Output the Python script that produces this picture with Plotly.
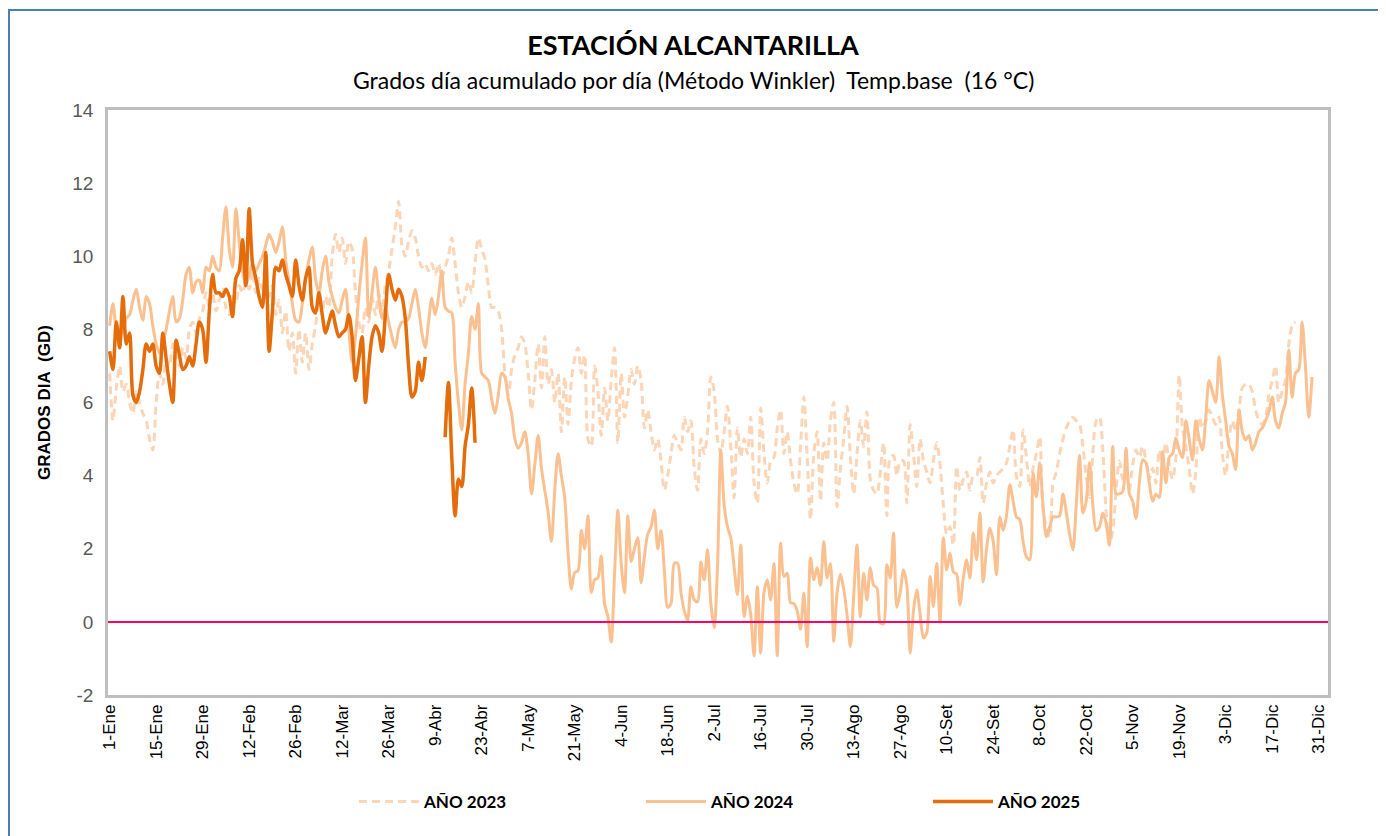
import plotly.graph_objects as go

# ---------------- data ----------------
tick_days = [0, 14, 28, 42, 56, 70, 84, 98, 112, 126, 140, 154, 168, 182,
             196, 210, 224, 238, 252, 266, 280, 294, 308, 322, 336, 350, 364]
tick_labels = ["1-Ene", "15-Ene", "29-Ene", "12-Feb", "26-Feb", "12-Mar", "26-Mar",
               "9-Abr", "23-Abr", "7-May", "21-May", "4-Jun", "18-Jun", "2-Jul",
               "16-Jul", "30-Jul", "13-Ago", "27-Ago", "10-Set", "24-Set", "8-Oct",
               "22-Oct", "5-Nov", "19-Nov", "3-Dic", "17-Dic", "31-Dic"]
y_tick_vals = [-2, 0, 2, 4, 6, 8, 10, 12, 14]
y_tick_text = ["-2", "0", "2", "4", "6", "8", "10", "12", "14"]

gd_2023 = [
    6.8, 5.5, 6.4, 7.0, 6.3, 6.5, 6.0, 5.7, 6.3, 6.0, 5.7, 5.5, 5.0, 4.7, 6.0, 6.8, 6.5, 7.2, 7.0, 7.6,
    7.3, 7.0, 7.5, 7.2, 8.0, 8.2, 7.9, 8.3, 8.5, 9.0, 8.6, 9.0, 8.5, 8.8, 9.1, 8.6, 8.4, 9.0, 8.7, 9.2,
    9.0, 9.3, 9.1, 9.6, 9.0, 9.4, 9.1, 9.3, 8.9, 9.2, 8.4, 8.8, 7.9, 8.5, 7.4, 7.9, 6.8, 8.0, 7.1, 7.9,
    6.9, 7.6, 8.1, 8.8, 8.5, 8.9, 8.6, 10.0, 10.6, 10.1, 10.5, 9.8, 10.4, 10.2, 9.0, 8.2, 7.9, 8.6, 8.2, 8.9,
    8.4, 9.0, 8.5, 9.2, 9.6, 10.2, 10.8, 11.5, 10.3, 10.0, 10.4, 10.7, 10.5, 10.0, 9.7, 9.8, 9.6, 9.8, 9.5, 9.8,
    9.4, 9.7, 10.0, 10.5, 9.8, 9.0, 8.6, 8.9, 9.3, 9.0, 9.8, 10.5, 10.2, 9.9, 9.2, 8.6, 8.6, 8.5, 8.0, 6.8,
    6.2, 6.9, 7.3, 7.5, 7.8, 7.6, 6.8, 5.8, 6.6, 7.6, 6.4, 7.8, 6.5, 6.9, 6.0, 6.8, 5.2, 6.7, 5.4, 6.6,
    7.2, 7.5, 6.8, 7.3, 5.0, 4.8, 7.0, 6.3, 5.1, 6.4, 5.5, 6.6, 7.5, 4.9, 6.8, 5.6, 6.2, 6.9, 6.5, 7.0,
    6.6, 5.3, 5.8, 5.2, 4.7, 5.0, 4.4, 3.6, 4.0, 4.6, 5.1, 4.9, 4.7, 5.6, 5.2, 5.5, 4.2, 3.6, 5.0, 4.6,
    5.2, 6.7, 6.3, 5.0, 4.6, 5.2, 5.9, 4.8, 3.4, 5.3, 4.5, 5.0, 4.6, 5.6, 3.8, 3.25, 5.85, 4.6, 3.8, 4.4,
    4.5, 5.3, 5.8, 4.6, 5.2, 4.4, 3.8, 3.5, 4.8, 6.15, 4.5, 2.8, 4.6, 5.2, 3.3, 4.9, 4.4, 5.5, 6.0, 3.15,
    4.2, 5.0, 5.9, 4.5, 3.5, 4.6, 5.5, 4.8, 5.75, 3.9, 3.6, 3.5, 4.1, 4.9, 2.9, 4.5, 4.55, 4.0, 4.4, 4.4,
    3.25, 5.4, 4.6, 3.7, 5.0, 4.4, 4.1, 3.8, 4.4, 4.9, 4.3, 3.2, 2.4, 2.6, 2.1, 4.25, 3.6, 3.9, 4.1, 3.6,
    4.0, 4.0, 4.5, 3.25, 3.8, 4.1, 3.8, 4.0, 4.1, 4.2, 4.35, 4.8, 5.25, 3.97, 3.7, 5.25, 4.5, 3.7, 4.2, 4.6,
    5.06, 3.06, 2.6, 2.33, 3.8, 4.1, 4.6, 5.0, 5.3, 5.5, 5.6, 5.5, 5.4, 4.8, 4.0, 3.4, 4.6, 5.5, 5.6, 4.7,
    3.0, 2.15, 2.5, 3.6, 4.4, 3.9, 4.2, 3.6, 4.3, 4.7, 4.5, 4.8, 4.4, 3.9, 4.2, 3.8, 4.7, 4.3, 4.9, 4.3,
    3.9, 4.5, 6.75, 5.3, 4.8, 4.2, 3.5, 4.1, 5.6, 5.3, 5.5, 5.8, 5.6, 5.4, 5.6, 4.6, 4.0, 5.0, 5.5, 5.2,
    5.8, 6.4, 6.5, 6.5, 6.3, 5.8, 5.5, 5.4, 5.6, 6.2, 6.6, 7.0, 6.0, 6.3, 6.6, 7.6, 8.1, 8.2,
]

gd_2024 = [
    8.1, 8.7, 8.0, 7.8, 8.0, 8.3, 8.4, 8.8, 9.1, 8.6, 8.25, 8.9, 8.7, 8.1, 7.6, 7.35, 7.6, 8.0, 8.5, 8.9,
    8.2, 8.3, 8.8, 9.5, 9.7, 9.0, 9.3, 9.35, 9.0, 9.7, 9.6, 10.0, 9.7, 9.6, 10.5, 11.35, 10.2, 9.7, 11.3, 10.4,
    9.6, 9.2, 9.5, 9.8, 9.6, 9.8, 10.0, 10.3, 10.6, 10.4, 10.1, 10.4, 10.8, 9.9, 9.3, 8.7, 8.25, 8.2, 8.7, 9.4,
    9.9, 10.25, 9.35, 9.0, 9.6, 10.0, 9.3, 8.9, 8.6, 8.45, 8.8, 9.1, 8.0, 7.1, 7.8, 8.9, 9.8, 10.5, 8.35, 9.0,
    9.7, 8.9, 8.3, 8.6, 8.2, 7.8, 7.5, 8.0, 8.2, 8.2, 8.3, 8.7, 9.1, 8.6, 7.9, 7.5, 8.2, 8.85, 8.4, 8.9,
    9.6, 8.6, 8.5, 8.45, 7.1, 6.0, 5.25, 6.5, 7.35, 8.35, 8.0, 8.7, 6.8, 6.7, 6.6, 6.1, 5.7, 6.2, 6.8, 6.7,
    6.1, 5.7, 5.0, 4.75, 4.9, 5.2, 4.6, 3.5, 4.3, 5.1, 4.2, 3.6, 3.0, 2.2, 3.6, 4.6, 4.0, 3.4, 1.9, 0.9,
    1.35, 1.4, 2.5, 2.0, 2.9, 0.8, 1.15, 1.2, 1.8, 0.5, 0.15, -0.55, 1.3, 3.06, 1.6, 0.8, 2.9, 1.65, 2.0, 2.3,
    1.07, 1.8, 2.4, 2.6, 3.06, 2.0, 2.5, 1.4, 0.4, 0.5, 1.6, 1.6, 0.8, 0.3, 0.05, 0.96, 0.6, 0.55, 1.64, 1.15,
    1.97, 0.5, -0.16, 1.5, 4.7, 3.2, 2.6, 2.3, 1.5, 0.74, 2.1, 0.14, 0.7, 0.2, -0.93, 0.96, -0.85, 0.8, 1.15, 0.6,
    1.6, -0.93, 2.15, 1.24, 1.33, 0.52, 0.5, 0.3, -0.2, 0.79, -0.68, 1.75, 1.15, 1.48, 1.0, 2.2, 1.2, 1.6, -0.53, 0.8,
    1.3, 0.9, 0.2, -0.68, 0.7, 2.1, 0.14, 1.33, 0.6, 1.48, 1.0, 0.93, -0.03, -0.05, 1.56, 1.2, 2.43, 0.4, 0.8, 1.42,
    1.0, -0.85, 0.3, 0.87, 0.2, -0.44, -0.3, 1.24, 0.42, 1.6, 0.0, 2.3, 1.42, 1.88, 1.37, 1.3, 0.47, 1.2, 1.7, 1.2,
    2.43, 1.7, 2.98, 1.1, 2.0, 2.56, 2.2, 1.29, 2.87, 2.5, 2.9, 3.75, 3.3, 2.87, 2.8, 2.2, 1.78, 1.7, 4.07, 3.42,
    4.35, 3.2, 2.33, 2.6, 2.87, 2.87, 2.9, 3.5, 3.0, 2.4, 1.97, 3.2, 4.56, 2.98, 3.3, 4.35, 3.2, 2.5, 2.6, 2.98,
    2.7, 2.1, 4.8, 3.5, 3.5, 3.56, 4.75, 3.5, 3.3, 2.83, 3.8, 4.43, 4.35, 3.8, 3.3, 3.5, 3.4, 4.65, 3.8, 4.5,
    4.6, 5.03, 4.7, 4.49, 5.5, 5.0, 4.43, 5.5, 5.0, 4.7, 5.6, 6.6, 6.3, 6.0, 7.25, 6.2, 5.5, 4.8, 4.6, 4.16,
    5.8, 5.2, 4.98, 5.1, 4.7, 4.9, 5.2, 5.3, 5.5, 5.75, 6.15, 5.5, 5.3, 5.7, 6.0, 7.44, 6.15, 6.8, 6.9, 8.2,
    7.0, 5.6, 6.7,
]

gd_2025 = [
    7.4, 6.9, 8.2, 7.5, 8.9, 7.6, 7.9, 6.2, 6.0, 6.3, 6.9, 7.6, 7.4, 7.6, 7.0, 6.8, 7.9, 7.2, 6.5, 6.0,
    7.7, 7.3, 6.9, 7.0, 7.25, 7.0, 7.6, 8.2, 8.0, 7.1, 8.5, 9.5, 9.0, 9.0, 8.9, 9.1, 8.9, 8.35, 9.4, 9.6,
    10.45, 9.2, 11.3, 9.8, 9.4, 8.9, 8.6, 10.1, 7.4, 8.5, 9.7, 9.6, 9.9, 9.5, 9.2, 8.9, 9.9, 9.2, 8.8, 9.4,
    9.7, 8.6, 8.45, 9.0, 8.4, 7.9, 8.2, 8.5, 8.1, 7.8, 7.9, 8.0, 8.4, 7.8, 6.6, 7.2, 7.8, 6.0, 7.0, 7.8,
    8.1, 7.9, 7.4, 8.4, 9.5, 9.1, 8.8, 9.1, 8.9, 8.3, 7.0, 6.15, 6.3, 7.1, 6.6, 7.25, None, None, None, None,
    None, 5.05, 6.55, 4.5, 2.9, 3.9, 3.7, 4.8, 5.4, 6.4, 4.9,
]

series_names = ["<b>AÑO 2023</b>", "<b>AÑO 2024</b>", "<b>AÑO 2025</b>"]

# ---------------- figure ----------------
fig = go.Figure()

fig.add_trace(go.Scatter(
    x=list(range(len(gd_2023))), y=gd_2023, name=series_names[0], mode="lines",
    line=dict(color="#FBD5B5", width=3, dash="8px,5px", shape="spline", smoothing=0.8),
))
fig.add_trace(go.Scatter(
    x=list(range(len(gd_2024))), y=gd_2024, name=series_names[1], mode="lines",
    line=dict(color="#FAC090", width=3, shape="spline", smoothing=0.8),
))
fig.add_trace(go.Scatter(
    x=list(range(len(gd_2025))), y=gd_2025, name=series_names[2], mode="lines",
    connectgaps=False,
    line=dict(color="#E46C0A", width=3.5, shape="spline", smoothing=0.8),
))

# the page body has an 8px margin: the figure is laid out 8px in from the window corner
OFF = 8
W, H = 1386 - OFF, 836 - OFF
L, T = 108 - OFF, 110 - OFF
R = W - (1328 - OFF)
B = H - (695 - OFF)
pw, ph = W - L - R, H - T - B

def px(x):
    """window x pixel -> paper x"""
    return (x - OFF - L) / pw

def py(y):
    """window y pixel -> paper y"""
    return (H - B - (y - OFF)) / ph

shapes = [
    # zero reference line
    dict(type="line", xref="paper", yref="y", x0=0, x1=1, y0=0, y1=0,
         line=dict(color="#FF0066", width=2), layer="above"),
    # outer chart border
    dict(type="rect", xref="paper", yref="paper",
         x0=px(OFF + 1), x1=px(1380), y0=py(860), y1=py(10),
         line=dict(color="#4A7EBB", width=2), fillcolor="rgba(0,0,0,0)", layer="below"),
]

fig.update_layout(
    width=W, height=H,
    margin=dict(l=L, r=R, t=T, b=B, autoexpand=False),
    paper_bgcolor="white", plot_bgcolor="white",
    font=dict(family="Liberation Sans, Arial, sans-serif", color="#000000"),
    title=dict(text="<b>ESTACIÓN ALCANTARILLA</b>", x=(693 - OFF) / W, xanchor="center",
               y=1 - (46 - OFF) / H, yanchor="middle", yref="container",
               font=dict(family="Lato, Liberation Sans, sans-serif", size=27, color="#000000")),
    annotations=[dict(
        text="Grados día acumulado por día (Método Winkler)\u00a0 Temp.base\u00a0 (16 °C)",
        xref="paper", yref="paper", x=px(693), y=py(80), xanchor="center", yanchor="middle",
        showarrow=False, font=dict(family="Lato, Liberation Sans, sans-serif", size=23, color="#000000"),
    )],
    shapes=shapes,
    xaxis=dict(
        range=[-0.5, 366.8], tickmode="array", tickvals=tick_days, ticktext=tick_labels,
        tickangle=-90, tickfont=dict(size=17, color="#000000"),
        showgrid=False, zeroline=False, ticks="",
        showline=True, linecolor="#BFBFBF", linewidth=2.5, mirror=True,
    ),
    yaxis=dict(
        range=[-2, 14], tickmode="array", tickvals=y_tick_vals, ticktext=y_tick_text,
        tickfont=dict(size=19, color="#595959"),
        showgrid=False, zeroline=False, ticks="",
        showline=True, linecolor="#BFBFBF", linewidth=2.5, mirror=True,
        ticklabelstandoff=8,
        title=dict(text="<b>GRADOS DIA\u00a0 (GD)</b>", standoff=18,
                   font=dict(size=17, color="#000000")),
    ),
    legend=dict(
        orientation="h", x=px(354), xanchor="left", y=py(802), yanchor="middle",
        font=dict(family="Lato, Liberation Sans, sans-serif", size=17, color="#000000"),
        itemwidth=60, entrywidth=212, entrywidthmode="pixels",
        bgcolor="rgba(0,0,0,0)", traceorder="normal",
    ),
    showlegend=True,
)

fig.write_html("out.html")
